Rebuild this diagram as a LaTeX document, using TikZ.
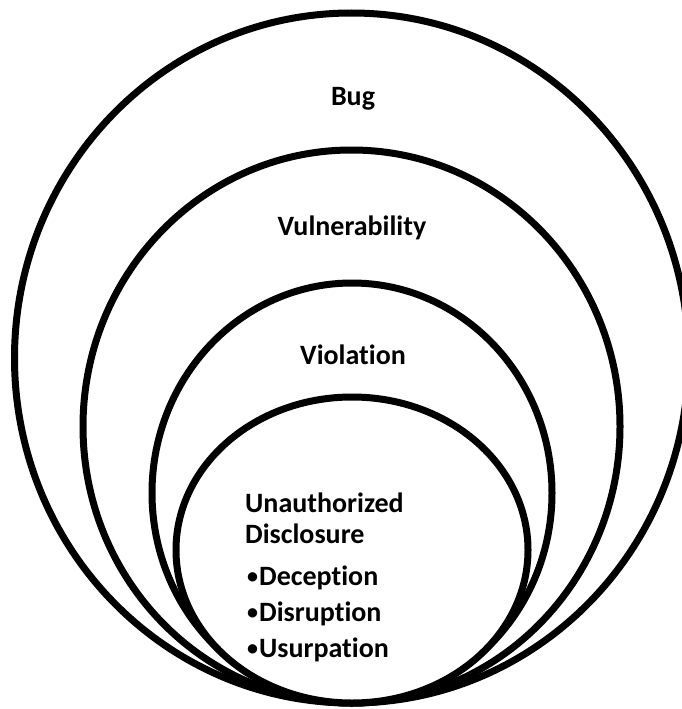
\documentclass[tikz,border=0pt]{standalone}
\usepackage{fontspec}
\setmainfont[Ligatures=NoCommon]{Carlito}
\usetikzlibrary{shapes.geometric}
% smaller list bullet set on the text's mid-height
\newcommand{\listdot}{\raisebox{1.5pt}{\fontsize{22}{22}\selectfont •}}
\begin{document}
\begin{tikzpicture}[x=1pt,y=-1pt,
  ring/.style={ellipse, draw=black, fill=white, line width=7pt, inner sep=0pt},
  caption/.style={font=\fontsize{28}{31}\selectfont\bfseries, inner sep=0pt, anchor=base},
  listline/.style={caption, anchor=base west}]
  \useasboundingbox (0,0) rectangle (681,709);
  % nested sets, largest first so each smaller one covers the larger
  \node[ring, minimum width=674pt, minimum height=690pt] (bug)  at (351.5,358) {};
  \node[ring, minimum width=537pt, minimum height=553pt] (vuln) at (351.5,426.5) {};
  \node[ring, minimum width=400pt, minimum height=420pt] (viol) at (352,493) {};
  \node[ring, minimum width=352pt, minimum height=306pt] (disc) at (352,550) {};
  % labels
  \node[caption] (bugtext)  at (353,105) {Bug};
  \node[caption] (vulntext) at (352,235) {Vulnerability};
  \node[caption] (violtext) at (353,364) {Violation};
  \node[listline] (disc1) at (245,512) {Unauthorized};
  \node[listline] (disc2) at (245,543) {Disclosure};
  \node[listline] (item1) at (247,585) {\listdot\kern1pt Deception};
  \node[listline] (item2) at (247,621) {\listdot\kern1pt Disruption};
  \node[listline] (item3) at (247,657) {\listdot\kern1pt Usurpation};
\end{tikzpicture}
\end{document}
